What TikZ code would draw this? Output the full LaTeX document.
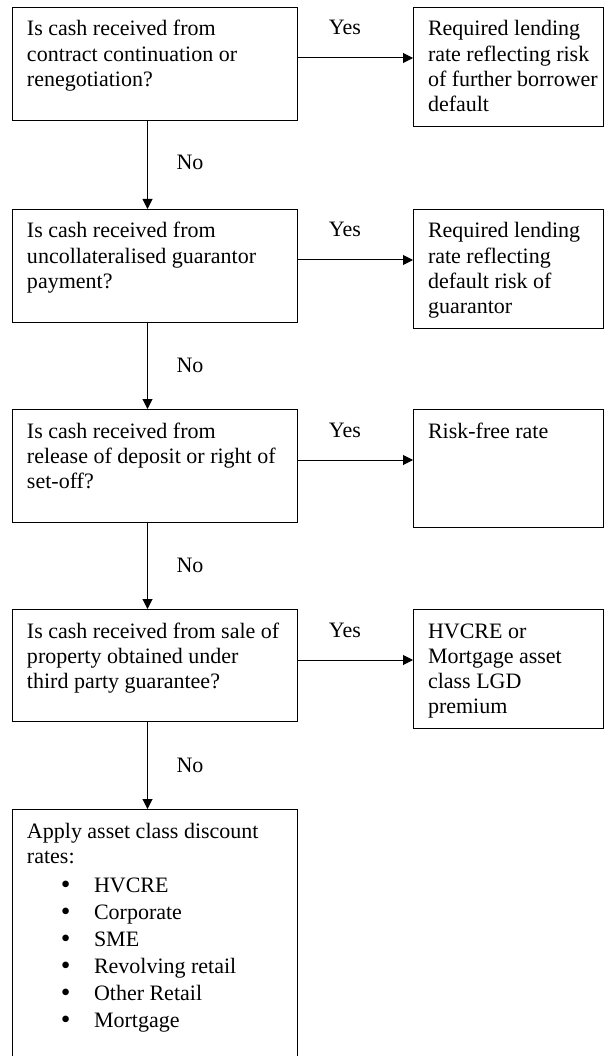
\documentclass[tikz,border=0pt]{standalone}
\usepackage{fontspec}
\usepackage{graphicx}
\setmainfont{Liberation Serif}
\usetikzlibrary{arrows.meta}
\newcommand{\bxt}[3]{\parbox[c][#2][t]{#1}{\raggedright\setlength{\leftskip}{14.5pt}\setlength{\parindent}{0pt}\rule{0pt}{28.5pt}#3}}
\newcommand{\itm}[1]{\hspace*{34pt}\makebox[33pt][l]{\raisebox{-0.8pt}{\scalebox{1.25}{\textbullet}}}#1}
\begin{document}
\begin{tikzpicture}[x=1pt,y=-1pt,
  font=\fontsize{22}{25.3}\selectfont,
  box/.style={draw=black, line width=1pt, inner sep=0pt, anchor=north west},
  arr/.style={draw=black, line width=1pt, -{Triangle[length=10pt,width=10pt]}},
  lbl/.style={anchor=base, inner sep=0pt}]
\useasboundingbox (0,0) rectangle (604,1056);
\begin{scope}
\clip (0,0) rectangle (604,1056);
% questions
\node[box] (q1) at (12,7) {\bxt{285pt}{113pt}{Is cash received from\\contract continuation or\\renegotiation?}};
\node[box] (q2) at (12,209) {\bxt{285pt}{113pt}{Is cash received from\\uncollateralised guarantor\\payment?}};
\node[box] (q3) at (12,409) {\bxt{285pt}{113pt}{Is cash received from\\release of deposit or right of\\set-off?}};
\node[box] (q4) at (12,609) {\bxt{285pt}{112pt}{Is cash received from sale of\\property obtained under\\third party guarantee?}};
\node[box] (q5) at (12,809) {\bxt{285pt}{262pt}{Apply asset class discount\\rates:\\[3.7pt]\itm{HVCRE}\\[1.7pt]\itm{Corporate}\\[1.7pt]\itm{SME}\\[1.7pt]\itm{Revolving retail}\\[1.7pt]\itm{Other Retail}\\[1.7pt]\itm{Mortgage}}};
% results
\node[box] (r1) at (413,7) {\bxt{190pt}{119pt}{Required lending\\rate reflecting risk\\of further borrower\\default}};
\node[box] (r2) at (413,209) {\bxt{190pt}{119pt}{Required lending\\rate reflecting\\default risk of\\guarantor}};
\node[box] (r3) at (413,409) {\bxt{190pt}{118pt}{Risk-free rate}};
\node[box] (r4) at (413,609) {\bxt{190pt}{119pt}{HVCRE or\\Mortgage asset\\class LGD\\premium}};
% No arrows
\draw[arr] ([xshift=-7.5pt]q1.south) -- ([xshift=-7.5pt]q2.north);
\draw[arr] ([xshift=-7.5pt]q2.south) -- ([xshift=-7.5pt]q3.north);
\draw[arr] ([xshift=-7.5pt]q3.south) -- ([xshift=-7.5pt]q4.north);
\draw[arr] ([xshift=-7.5pt]q4.south) -- ([xshift=-7.5pt]q5.north);
% Yes arrows
\draw[arr] ([yshift=-51pt]q1.north east) -- ([yshift=-51pt]r1.north west);
\draw[arr] ([yshift=-51pt]q2.north east) -- ([yshift=-51pt]r2.north west);
\draw[arr] ([yshift=-51pt]q3.north east) -- ([yshift=-51pt]r3.north west);
\draw[arr] ([yshift=-51pt]q4.north east) -- ([yshift=-51pt]r4.north west);
% labels
\node[lbl] (y1) at (345,35) {Yes};
\node[lbl] (y2) at (345,237) {Yes};
\node[lbl] (y3) at (345,437) {Yes};
\node[lbl] (y4) at (345,637) {Yes};
\node[lbl] (n1) at (190,170) {No};
\node[lbl] (n2) at (190,372) {No};
\node[lbl] (n3) at (190,572) {No};
\node[lbl] (n4) at (190,772) {No};
\end{scope}
\end{tikzpicture}
\end{document}
